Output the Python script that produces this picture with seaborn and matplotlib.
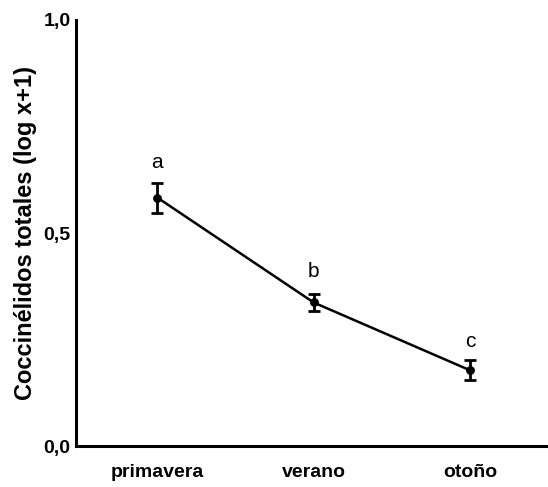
import matplotlib
matplotlib.use("Agg")
import matplotlib.pyplot as plt
import seaborn as sns
import pandas as pd

categories = ["primavera", "verano", "otoño"]
means = [0.583, 0.337, 0.178]
errors = [0.035, 0.019, 0.023]
letters = ["a", "b", "c"]
letter_y = [0.666, 0.41, 0.246]
yticks = [0.0, 0.5, 1.0]
ytick_labels = ["0,0", "0,5", "1,0"]

sns.set_theme(style="white")
plt.rcParams["font.family"] = ["Liberation Sans", "DejaVu Sans"]
plt.rcParams["text.color"] = "black"
plt.rcParams["axes.labelcolor"] = "black"
plt.rcParams["xtick.color"] = "black"
plt.rcParams["ytick.color"] = "black"

fig = plt.figure(figsize=(5.48, 4.87), dpi=100)
ax = fig.add_axes([0.139, 0.084, 0.861, 0.875])

df = pd.DataFrame({"season": categories, "value": means})
sns.pointplot(data=df, x="season", y="value", color="black", errorbar=None,
              markers="o", markersize=5, linewidth=1.8, ax=ax)
ax.errorbar(range(len(categories)), means, yerr=errors, fmt="none",
            ecolor="black", elinewidth=2, capsize=4, capthick=2)
for i, (l, y) in enumerate(zip(letters, letter_y)):
    ax.text(i, y, l, ha="center", va="center", fontsize=15, color="black")

ax.set_xlim(-0.52, 2.5)
ax.set_ylim(0, 1.0)
ax.set_yticks(yticks)
ax.set_yticklabels(ytick_labels, fontsize=14, fontweight="bold")
ax.set_xticks(range(len(categories)))
ax.set_xticklabels(categories, fontsize=14, fontweight="bold")
ax.tick_params(axis="both", length=0)
ax.tick_params(axis="y", pad=4)
ax.tick_params(axis="x", pad=13)
ax.set_xlabel("")
ax.set_ylabel("Coccinélidos totales (log x+1)", fontsize=17, fontweight="bold", labelpad=5)
for s in ["top", "right"]:
    ax.spines[s].set_visible(False)
for s in ["left", "bottom"]:
    ax.spines[s].set_linewidth(2.2)
    ax.spines[s].set_color("black")

fig.savefig("out.png", dpi=100, facecolor="white")
